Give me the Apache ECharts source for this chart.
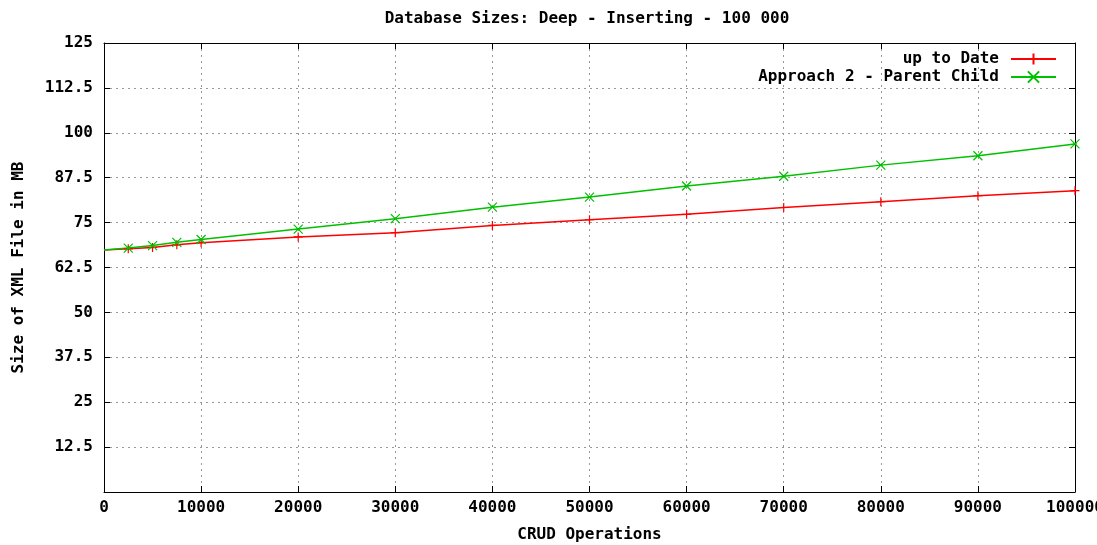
<!DOCTYPE html>
<html>
<head>
<meta charset="utf-8">
<script src="https://cdn.jsdelivr.net/npm/echarts@6/dist/echarts.min.js"></script>
<style>
html,body{margin:0;padding:0;background:#fff;}
#chart{width:1097px;height:545px;}
</style>
</head>
<body>
<div id="chart"></div>
<script>
const titleText = 'Database Sizes: Deep - Inserting - 100 000';
const xAxisName = 'CRUD Operations';
const yAxisName = 'Size of XML File in MB';
const operations = [0, 2500, 5000, 7500, 10000, 20000, 30000, 40000, 50000, 60000, 70000, 80000, 90000, 100000];
const upToDate = [67.4, 67.7, 68.1, 68.8, 69.4, 71.0, 72.2, 74.2, 75.8, 77.3, 79.2, 80.8, 82.5, 83.9];
const parentChild = [67.4, 67.9, 68.6, 69.5, 70.3, 73.2, 76.1, 79.3, 82.1, 85.2, 87.9, 91.0, 93.6, 96.9];
const seriesNames = ['up to Date', 'Approach 2 - Parent Child'];

const FONT = 'DejaVu Sans Mono';
const txt = {fontFamily: FONT, fontWeight: 'bold', fontSize: 16, color: '#000'};
const RED = '#ff0000', GREEN = '#00c000';

function pairs(vals) {
  return operations.map((x, i) => i === 0 ? {value: [x, vals[i]], symbol: 'none'} : [x, vals[i]]);
}

const gridLine = {show: true, lineStyle: {color: '#999999', type: [2, 4], width: 1}};
const axisLine = {show: true, onZero: false, lineStyle: {color: '#000', width: 1}};
const tick = {show: true, inside: true, length: 6, lineStyle: {color: '#000'}};

const chart = echarts.init(document.getElementById('chart'), null, {renderer: 'canvas'});
chart.setOption({
  animation: false,
  backgroundColor: '#fff',
  title: {
    text: titleText, left: 582, top: 6, textAlign: 'center',
    textStyle: Object.assign({}, txt)
  },
  grid: {left: 104, right: 22, top: 43, bottom: 53, containLabel: false, outerBoundsMode: 'none'},
  legend: {
    orient: 'vertical', align: 'right', right: 40, top: 50, padding: 0,
    itemWidth: 45, itemHeight: 14, itemGap: 0,
    textStyle: Object.assign({}, txt, {lineHeight: 18, padding: [0, 7, 0, 0]}),
    data: seriesNames
  },
  xAxis: [{
    type: 'value', min: 0, max: 100000, interval: 10000,
    name: xAxisName, nameLocation: 'middle', nameGap: 35,
    nameTextStyle: Object.assign({}, txt),
    axisLine: axisLine, axisTick: tick, splitLine: gridLine,
    axisLabel: Object.assign({}, txt, {margin: 8, formatter: v => String(v)})
  }, {
    type: 'value', min: 0, max: 100000, interval: 10000, position: 'top',
    axisLine: axisLine, axisTick: tick, splitLine: {show: false}, axisLabel: {show: false}
  }],
  yAxis: [{
    type: 'value', min: 0, max: 125, interval: 12.5,
    name: yAxisName, nameLocation: 'middle', nameGap: 77, nameRotate: 90,
    nameTextStyle: Object.assign({}, txt),
    axisLine: axisLine, axisTick: tick, splitLine: gridLine,
    axisLabel: Object.assign({}, txt, {margin: 11, formatter: v => v === 0 ? '' : String(v)})
  }, {
    type: 'value', min: 0, max: 125, interval: 12.5, position: 'right',
    axisLine: axisLine, axisTick: tick, splitLine: {show: false}, axisLabel: {show: false}
  }],
  series: [{
    name: seriesNames[0], type: 'line', data: pairs(upToDate),
    symbol: 'path://M5,0L5,10M0,5L10,5', symbolSize: 9, showAllSymbol: true,
    lineStyle: {color: RED, width: 1.5},
    itemStyle: {color: RED, borderColor: RED, borderWidth: 1.2}
  }, {
    name: seriesNames[1], type: 'line', data: pairs(parentChild),
    symbol: 'path://M0,0L10,10M0,10L10,0M3,5L7,5', symbolSize: 9, showAllSymbol: true,
    lineStyle: {color: GREEN, width: 1.5},
    itemStyle: {color: GREEN, borderColor: GREEN, borderWidth: 1.2}
  }]
});
</script>
</body>
</html>
